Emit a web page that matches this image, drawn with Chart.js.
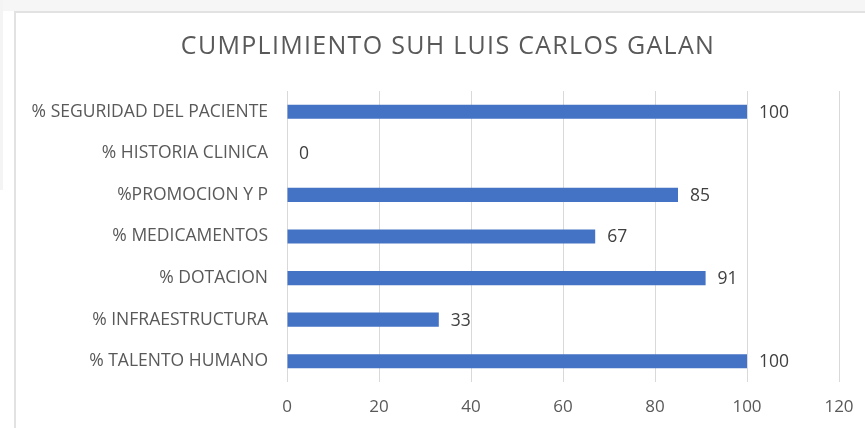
<!DOCTYPE html>
<html>
<head>
<meta charset="utf-8">
<script src="https://cdn.jsdelivr.net/npm/chart.js@4/dist/chart.umd.min.js"></script>
<style>
  html, body { margin: 0; padding: 0; background: #fff; }
  body { width: 865px; height: 428px; position: relative; overflow: hidden; }
  #topStrip { position: absolute; left: 0; top: 0; width: 865px; height: 11px; background: #f6f6f6; }
  #leftStrip { position: absolute; left: 0; top: 0; width: 3px; height: 190px; background: #f4f4f4; }
  #frame { position: absolute; left: 14px; top: 11px; width: 900px; height: 500px; border: 2px solid #e2e2e2; box-sizing: border-box; }
  #wrap { position: absolute; left: 0; top: 0; width: 865px; height: 428px; }
</style>
</head>
<body>
<div id="topStrip"></div>
<div id="leftStrip"></div>
<div id="frame"></div>
<div id="wrap"><canvas id="myChart"></canvas></div>
<script>
var categories = [
  "% SEGURIDAD DEL PACIENTE",
  "% HISTORIA CLINICA",
  "%PROMOCION Y P",
  "% MEDICAMENTOS",
  "% DOTACION",
  "% INFRAESTRUCTURA",
  "% TALENTO HUMANO"
];
var values = [100, 0, 85, 67, 91, 33, 100];
var xTicks = [0, 20, 40, 60, 80, 100, 120];
var titleText = "CUMPLIMIENTO SUH LUIS CARLOS GALAN";

// titulo dibujado a mano para poder abrir el espaciado de letras
var titlePlugin = {
  id: "titlePlugin",
  afterDraw: function (chart) {
    var ctx = chart.ctx;
    ctx.save();
    ctx.font = "25px 'Open Sans'";
    ctx.fillStyle = "#595959";
    ctx.textAlign = "center";
    ctx.textBaseline = "middle";
    ctx.letterSpacing = "1.3px";
    ctx.fillText(titleText, 448, 47);
    ctx.restore();
  }
};

// etiquetas de valor al final de cada barra
var barLabels = {
  id: "barLabels",
  afterDatasetsDraw: function (chart) {
    var ctx = chart.ctx;
    var meta = chart.getDatasetMeta(0);
    ctx.save();
    ctx.font = "17.5px 'Open Sans'";
    ctx.fillStyle = "#404040";
    ctx.textAlign = "left";
    ctx.textBaseline = "middle";
    meta.data.forEach(function (bar, i) {
      ctx.fillText(values[i], bar.x + 12, bar.y + 1);
    });
    ctx.restore();
  }
};

var ctx = document.getElementById("myChart").getContext("2d");
var myChart = new Chart(ctx, {
  type: "bar",
  data: {
    labels: categories,
    datasets: [
      {
        data: values,
        backgroundColor: "#4472C4",
        borderWidth: 0,
        barPercentage: 0.68,
        categoryPercentage: 0.5
      }
    ]
  },
  options: {
    indexAxis: "y",
    responsive: true,
    maintainAspectRatio: false,
    animation: false,
    layout: { padding: { left: 0, right: 26, top: 91, bottom: 0 } },
    plugins: {
      legend: { display: false },
      tooltip: { enabled: false },
      title: { display: false }
    },
    scales: {
      x: {
        min: 0,
        max: 120,
        afterBuildTicks: function (scale) {
          scale.ticks = xTicks.map(function (v) { return { value: v }; });
        },
        grid: { color: "#d9d9d9", drawTicks: false },
        border: { display: false },
        ticks: {
          color: "#595959",
          font: { family: "'Open Sans'", size: 17 },
          padding: 15
        },
        afterFit: function (scale) {
          scale.height = 46;
          scale.paddingRight = 0;
          scale.paddingLeft = 0;
        }
      },
      y: {
        grid: { display: false, drawTicks: false },
        border: { display: false },
        ticks: {
          color: "#595959",
          font: { family: "'Open Sans'", size: 17.5 },
          padding: 19
        },
        afterFit: function (scale) {
          scale.width = 287;
        }
      }
    }
  },
  plugins: [barLabels, titlePlugin]
});
</script>
</body>
</html>
